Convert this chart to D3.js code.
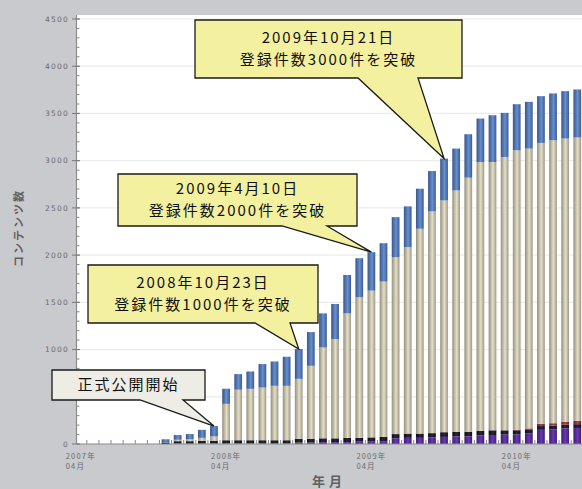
<!DOCTYPE html>
<html>
<head>
<meta charset="utf-8">
<script src="https://cdn.jsdelivr.net/npm/d3@7"></script>
<style>
  html, body { margin: 0; padding: 0; background: #c9cacd; }
  svg { display: block; }
  .cjk { font-family: "Noto Sans CJK JP", "Noto Sans", sans-serif; }
</style>
</head>
<body>
<svg id="chart" width="582" height="489"></svg>
<script>
// Monthly registered content counts, stacked by content type
const months = [
  "2007/04","2007/05","2007/06","2007/07","2007/08","2007/09","2007/10","2007/11","2007/12",
  "2008/01","2008/02","2008/03","2008/04","2008/05","2008/06","2008/07","2008/08","2008/09","2008/10","2008/11","2008/12",
  "2009/01","2009/02","2009/03","2009/04","2009/05","2009/06","2009/07","2009/08","2009/09","2009/10","2009/11","2009/12",
  "2010/01","2010/02","2010/03","2010/04","2010/05","2010/06","2010/07","2010/08","2010/09"
];
const purpleSeries = [0,0,0,0,0,0,0,0,5,5,5,5,5,5,5,5,5,5,15,15,20,20,20,25,25,30,60,65,65,70,75,80,80,90,95,100,100,110,150,155,165,170];
const darkSeries   = [0,0,0,0,0,0,0,15,25,25,30,30,35,35,35,35,35,35,40,40,40,40,45,40,45,45,45,45,45,45,50,50,50,50,50,45,45,45,40,40,40,40];
const redSeries    = [0,0,0,0,0,0,0,0,0,0,0,0,0,0,0,0,0,0,0,0,0,0,0,0,0,0,0,0,0,0,0,0,0,0,0,0,5,10,25,25,30,35];
const tanSeries    = [0,0,0,0,0,0,0,0,15,20,30,45,385,535,544,558,576,576,635,773,962,1051,1318,1488,1554,1645,1873,1974,2169,2348,2454,2555,2690,2846,2841,2894,2960,2963,2973,2996,2999,3000];
const blueSeries   = [0,0,0,0,0,0,0,35,50,55,85,110,160,165,184,248,258,308,315,357,361,372,407,414,407,406,424,432,424,427,443,443,460,460,495,467,488,495,495,496,502,509];

const yTicks = [0,500,1000,1500,2000,2500,3000,3500,4000,4500];
const xLabelMonths = ["2007/04","2008/04","2009/04","2010/04"];

// Callout notes: month the pointer aims at, and the text lines
const notes = [
  { month: "2008/03", lines: ["正式公開開始"], box: [52, 370, 205, 400], base: [140, 183], fill: "#ededE6" },
  { month: "2008/10", lines: ["2008年10月23日", "登録件数1000件を突破"], box: [88, 265, 318, 323], base: [255, 290], fill: "#f3f0a0" },
  { month: "2009/04", lines: ["2009年4月10日", "登録件数2000件を突破"], box: [118, 174, 357, 226], base: [282, 327], fill: "#f3f0a0" },
  { month: "2009/10", lines: ["2009年10月21日", "登録件数3000件を突破"], box: [195, 20, 462, 78], base: [358, 418], fill: "#f3f0a0" }
];

const keys = ["purple", "dark", "red", "tan", "blue"];
const table = months.map((m, i) => ({
  month: m,
  purple: purpleSeries[i], dark: darkSeries[i], red: redSeries[i],
  tan: tanSeries[i], blue: blueSeries[i]
}));

const svg = d3.select("#chart");
const W = 582, H = 489;
const plot = { left: 77, right: 582, top: 15, bottom: 444 };

svg.append("rect").attr("width", W).attr("height", H).attr("fill", "#c9cacd");
svg.append("rect")
  .attr("x", plot.left).attr("y", plot.top)
  .attr("width", plot.right - plot.left).attr("height", plot.bottom - plot.top)
  .attr("fill", "#ffffff");

const x = d3.scaleBand().domain(months).range([74.7, 74.7 + months.length * 12.11]).paddingInner(0.36).paddingOuter(0.18);
const y = d3.scaleLinear().domain([0, 4500]).range([444, 19]);

// cylinder-like shading for each series
const defs = svg.append("defs");
const shades = {
  purple: ["#3e1d72", "#6a38b4", "#3e1d72"],
  dark:   ["#0f0d18", "#2a2638", "#0f0d18"],
  red:    ["#6e1f2c", "#b04050", "#6e1f2c"],
  tan:    ["#948e7f", "#e4dfc6", "#9e9887"],
  blue:   ["#3a5488", "#6590d0", "#3d5992"]
};
keys.forEach(k => {
  const g = defs.append("linearGradient").attr("id", "g-" + k)
    .attr("x1", "0%").attr("x2", "100%").attr("y1", "0%").attr("y2", "0%");
  g.append("stop").attr("offset", "0%").attr("stop-color", shades[k][0]);
  g.append("stop").attr("offset", "55%").attr("stop-color", shades[k][1]);
  g.append("stop").attr("offset", "100%").attr("stop-color", shades[k][2]);
});
defs.append("clipPath").attr("id", "plotClip").append("rect")
  .attr("x", plot.left).attr("y", 0).attr("width", plot.right - plot.left).attr("height", plot.bottom);

// gridlines
svg.append("g").selectAll("line").data(yTicks.filter(v => v > 0)).join("line")
  .attr("x1", plot.left).attr("x2", plot.right)
  .attr("y1", d => y(d)).attr("y2", d => y(d))
  .attr("stroke", "#ececec").attr("stroke-width", 1.2);

// stacked bars
const stacked = d3.stack().keys(keys)(table);
const barLayer = svg.append("g").attr("clip-path", "url(#plotClip)");
barLayer.selectAll("g").data(stacked).join("g")
  .attr("fill", d => "url(#g-" + d.key + ")")
  .selectAll("rect").data(d => d.filter(s => s[1] - s[0] > 0)).join("rect")
  .attr("x", d => x(d.data.month))
  .attr("width", x.bandwidth())
  .attr("y", d => y(d[1]))
  .attr("height", d => y(d[0]) - y(d[1]));

// y axis
const yAxis = svg.append("g");
yAxis.append("line").attr("x1", 76.5).attr("x2", 76.5).attr("y1", plot.top).attr("y2", plot.bottom)
  .attr("stroke", "#8a8a8a").attr("stroke-width", 1.2);
yAxis.selectAll("line.minor").data(d3.range(0, 4501, 100)).join("line").attr("class", "minor")
  .attr("x1", 76.5).attr("x2", 79.5).attr("y1", d => y(d)).attr("y2", d => y(d))
  .attr("stroke", "#8a8a8a");
yAxis.selectAll("line.major").data(yTicks).join("line").attr("class", "major")
  .attr("x1", 72).attr("x2", 80).attr("y1", d => y(d)).attr("y2", d => y(d))
  .attr("stroke", "#7a7a7a");
yAxis.selectAll("text").data(yTicks).join("text")
  .attr("x", 69).attr("y", d => y(d)).attr("dy", "0.35em")
  .attr("text-anchor", "end")
  .attr("font-family", "DejaVu Sans, sans-serif").attr("font-size", 7.5)
  .attr("letter-spacing", 1.2)
  .attr("fill", "#6a6a6a")
  .text(d => d);

// x axis
const xAxis = svg.append("g");
xAxis.append("line").attr("x1", plot.left).attr("x2", plot.right).attr("y1", 444).attr("y2", 444)
  .attr("stroke", "#8a8a8a").attr("stroke-width", 1.2);
const step = x.step();
xAxis.selectAll("line.tick").data(months).join("line").attr("class", "tick")
  .attr("x1", d => x(d) + x.bandwidth() / 2 + step / 2)
  .attr("x2", d => x(d) + x.bandwidth() / 2 + step / 2)
  .attr("y1", 444).attr("y2", 440)
  .attr("stroke", "#8a8a8a");
const xl = xAxis.selectAll("text").data(xLabelMonths).join("text")
  .attr("class", "cjk")
  .attr("font-size", 7.5).attr("fill", "#6a6a6a").attr("letter-spacing", 1.2);
xl.append("tspan")
  .attr("x", d => x(d) + x.bandwidth() / 2 - 15).attr("y", 459)
  .text(d => d.split("/")[0] + "年");
xl.append("tspan")
  .attr("x", d => x(d) + x.bandwidth() / 2 - 15).attr("y", 469)
  .text(d => d.split("/")[1] + "月");

// axis titles
svg.append("text").attr("class", "cjk")
  .attr("transform", "translate(23,228) rotate(-90)")
  .attr("text-anchor", "middle")
  .attr("font-size", 11).attr("font-weight", "bold").attr("letter-spacing", 2)
  .attr("fill", "#606060")
  .text("コンテンツ数");
svg.append("text").attr("class", "cjk")
  .attr("x", 329).attr("y", 486)
  .attr("text-anchor", "middle")
  .attr("font-size", 13).attr("font-weight", "bold").attr("letter-spacing", 4)
  .attr("fill", "#606060")
  .text("年月");

// callouts
const totals = months.map((m, i) => purpleSeries[i] + darkSeries[i] + redSeries[i] + tanSeries[i] + blueSeries[i]);
const noteLayer = svg.append("g");
notes.forEach(n => {
  const i = months.indexOf(n.month);
  const tx = x(n.month) + x.bandwidth() / 2;
  const ty = y(totals[i]);
  const [x0, y0, x1, y1] = n.box;
  const path = `M${x0},${y0} H${x1} V${y1} H${n.base[1]} L${tx},${ty} L${n.base[0]},${y1} H${x0} Z`;
  noteLayer.append("path").attr("d", path)
    .attr("fill", n.fill).attr("stroke", "#1a1a1a").attr("stroke-width", 1.3)
    .attr("stroke-linejoin", "miter");
  const cx = (x0 + x1) / 2;
  const lh = 22;
  const cy = (y0 + y1) / 2 - (n.lines.length - 1) * lh / 2;
  n.lines.forEach((t, k) => {
    noteLayer.append("text").attr("class", "cjk")
      .attr("x", cx).attr("y", cy + k * lh).attr("dy", "0.36em")
      .attr("text-anchor", "middle")
      .attr("font-size", 15).attr("letter-spacing", 2)
      .attr("fill", "#111")
      .text(t);
  });
});
</script>
</body>
</html>
